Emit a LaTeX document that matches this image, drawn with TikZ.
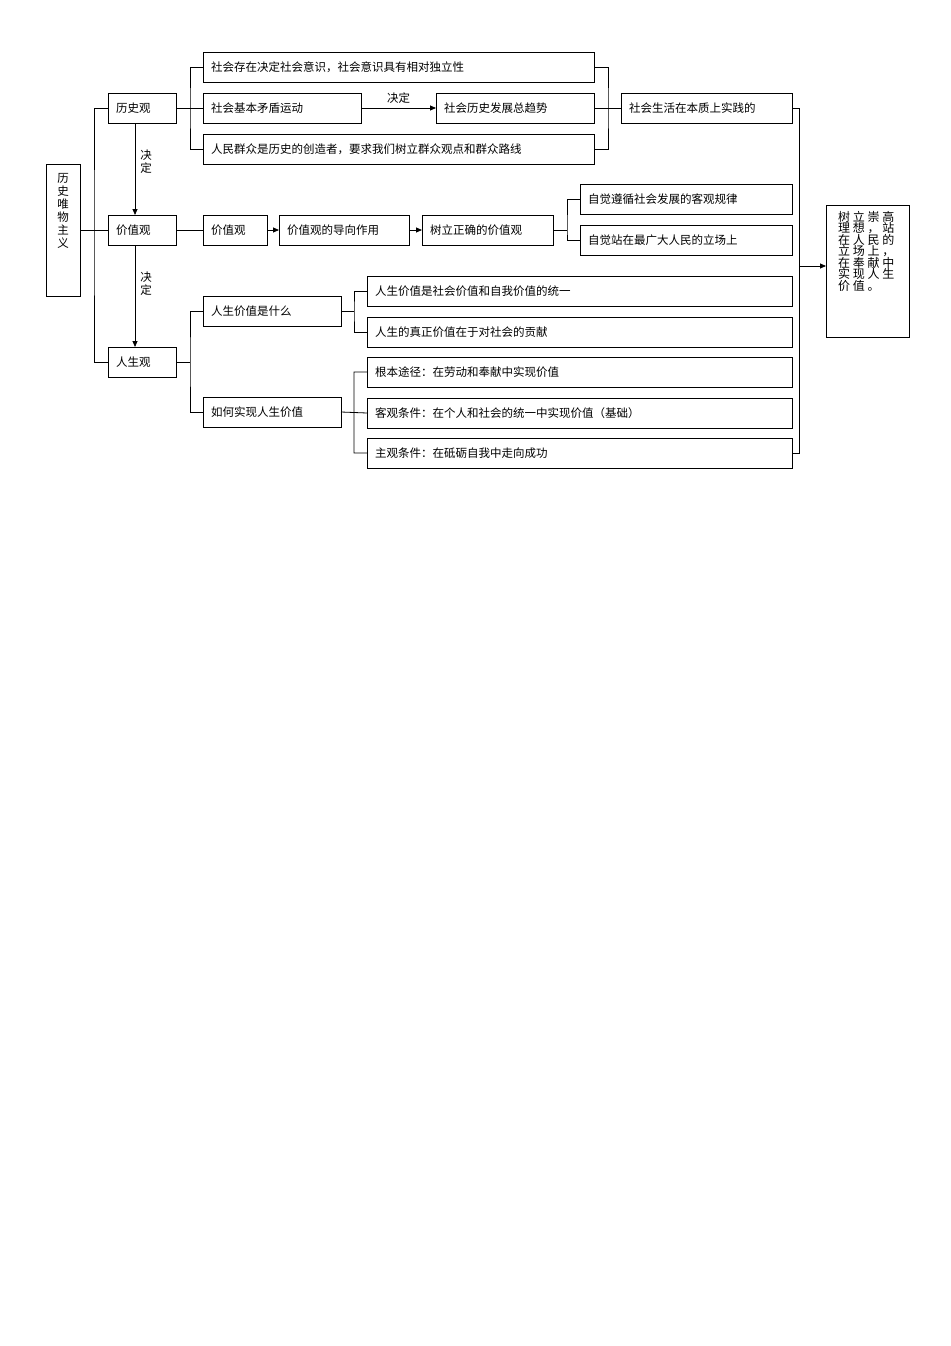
\documentclass[tikz,border=0pt]{standalone}
\usepackage{fontspec}
\setmainfont{Noto Sans CJK SC}
\usetikzlibrary{arrows.meta}
\tikzset{box/.style={draw,line width=0.8pt,outer sep=0pt,anchor=north west,inner xsep=8pt,inner ysep=0pt,align=left,font=\fontsize{11.5}{13}\selectfont},
 ln/.style={line width=0.8pt}, ar/.style={ln,-{Triangle[length=6pt,width=5pt]}},
 lab/.style={font=\fontsize{11.5}{13}\selectfont}}
\newcommand\bx[6]{\pgfmathsetmacro\ww{#4-#2-16}\pgfmathsetmacro\hh{#5-#3}%
 \node[box,text width=\ww pt,minimum height=\hh pt] (#1) at (#2,#3) {#6};}
\begin{document}
\begin{tikzpicture}[x=1pt,y=-1pt]
\useasboundingbox (0,0) rectangle (950,1346);
\fill[white] (0,0) rectangle (950,1346);
\node[draw,line width=0.8pt,outer sep=0pt,anchor=north west,minimum width=34pt,minimum height=132pt,inner sep=0pt] (m) at (46,164) {};
\node[lab,align=center,anchor=north,font=\fontsize{11.5}{13}\selectfont] (mt) at (63,170) {历\\史\\唯\\物\\主\\义};
\bx{h}{108}{93}{176}{123}{历史观}
\bx{v}{108}{215}{176}{245}{价值观}
\bx{l}{108}{347}{176}{377}{人生观}
\draw[ln] (m.east) -- (94,230) (h.west) -| (94,230) |- (l.west) (94,230) -- (v.west);
\draw[ar] (135,123) -- (135,215);
\node[lab,align=center] (k1) at (146,162) {决\\定};
\draw[ar] (135,245) -- (135,347);
\node[lab,align=center] (k2) at (146,284) {决\\定};
% history group
\bx{b1}{203}{52}{594}{82}{社会存在决定社会意识，社会意识具有相对独立性}
\bx{b2}{203}{93}{361}{123}{社会基本矛盾运动}
\bx{b3}{436}{93}{594}{123}{社会历史发展总趋势}
\bx{b4}{203}{134}{594}{164}{人民群众是历史的创造者，要求我们树立群众观点和群众路线}
\bx{b5}{621}{93}{792}{123}{社会生活在本质上实践的}
\draw[ln] (h.east) -- (b2.west) (b1.west) -| (190,108) |- (b4.west);
\draw[ar] (b2.east) -- (b3.west) node[lab,midway,above=1pt] {决定};
\draw[ln] (b1.east) -| (608,108) |- (b4.east) (b3.east) -- (b5.west);
% value group
\bx{c1}{203}{215}{267}{245}{价值观}
\bx{c2}{279}{215}{409}{245}{价值观的导向作用}
\bx{c3}{422}{215}{553}{245}{树立正确的价值观}
\bx{c4}{580}{184}{792}{214}{自觉遵循社会发展的客观规律}
\bx{c5}{580}{225}{792}{255}{自觉站在最广大人民的立场上}
\draw[ln] (v.east) -- (c1.west) (c3.east) -- (567,230) (c4.west) -| (567,230) |- (c5.west);
\draw[ar] (c1.east) -- (c2.west);
\draw[ar] (c2.east) -- (c3.west);
% life group
\bx{d1}{203}{296}{341}{326}{人生价值是什么}
\bx{d2}{203}{397}{341}{427}{如何实现人生价值}
\draw[ln] (l.east) -- (190,362) (d1.west) -| (190,362) |- (d2.west);
\bx{e1}{367}{276}{792}{306}{人生价值是社会价值和自我价值的统一}
\bx{e2}{367}{317}{792}{347}{人生的真正价值在于对社会的贡献}
\bx{e3}{367}{357}{792}{387}{根本途径：在劳动和奉献中实现价值}
\bx{e4}{367}{398}{792}{428}{客观条件：在个人和社会的统一中实现价值（基础）}
\bx{e5}{367}{438}{792}{468}{主观条件：在砥砺自我中走向成功}
\draw[ln] (d1.east) -- (354,311) (e1.west) -| (354,311) |- (e2.west);
\draw[ln] (d2.east) -- (e4.west) (e3.west) -| (354,412) |- (e5.west);
% right
\node[draw,line width=0.8pt,outer sep=0pt,anchor=north west,minimum width=83pt,minimum height=132pt,inner sep=0pt] (f) at (826,205) {};
\node[anchor=north west,align=left,inner sep=0pt,font=\fontsize{12}{11.5}\selectfont] (ft) at (838,211) {树 立 崇 高\\理 想 ， 站\\在 人 民 的\\立 场 上 ，\\在 奉 献 中\\实 现 人 生\\价 值 。};
\draw[ln] (b5.east) -| (799,266) |- (e5.east);
\draw[ar] (799,266) -- (f.west |- 0,266);
\end{tikzpicture}
\end{document}
